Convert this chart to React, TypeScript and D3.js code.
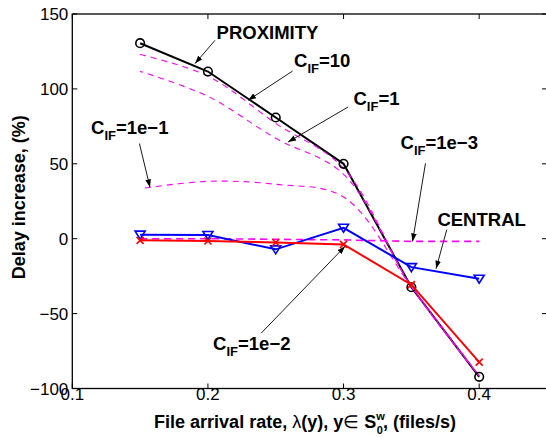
import React, { useEffect, useRef } from "react";
import * as d3 from "d3";

// arrival rates (files/s)
const rates = [0.15, 0.2, 0.25, 0.3, 0.35, 0.4];

// delay increase (%) per scheme
const proximity = [130.5, 111.6, 80.9, 50, -32.4, -92.2];
const central = [2.7, 2.5, -7.1, 7.3, -19, -26.7];
const cif1e2 = [-1.1, -1.5, -2.5, -3.8, -30.7, -82.4];

// C_IF sweep (dashed magenta)
const cif10 = [123, 108.5, 77, 47, -32, -91.6];
const cif1 = [111.7, 95, 67, 43, -32, -91.6];
const cif1e1 = [33.4, 38.3, 36.3, 27.8, -32, -91.6];
const cif1e3 = [0, 0, -0.4, -0.8, -1.8, -1.8];

const xTicks = [0.1, 0.2, 0.3, 0.4];
const yTicks = [-100, -50, 0, 50, 100, 150];

// annotation text / arrow anchors, in data units
const notes = [
  { main: "PROXIMITY", sub: "", rest: "", tx: 0.2064, ty: 133.1, fx: 0.2052, fy: 132.4, ax: 0.1905, ay: 116.9 },
  { main: "C", sub: "IF", rest: "=10", tx: 0.2635, ty: 114.6, fx: 0.2624, fy: 111.9, ax: 0.2296, ay: 92.4 },
  { main: "C", sub: "IF", rest: "=1", tx: 0.3073, ty: 89.0, fx: 0.3033, fy: 87.9, ax: 0.2591, ay: 64.5 },
  { main: "C", sub: "IF", rest: "=1e\u22121", tx: 0.1138, ty: 70.1, fx: 0.1495, fy: 63.5, ax: 0.1573, ay: 34.3 },
  { main: "C", sub: "IF", rest: "=1e\u22123", tx: 0.342, ty: 59.6, fx: 0.3604, fy: 50.3, ax: 0.3509, ay: -1.8 },
  { main: "CENTRAL", sub: "", rest: "", tx: 0.3692, ty: 8.4, fx: 0.3761, fy: 6.0, ax: 0.3682, ay: -20.0 },
  { main: "C", sub: "IF", rest: "=1e\u22122", tx: 0.2038, ty: -74.6, fx: 0.2392, fy: -63.1, ax: 0.3011, ay: -5.1 },
];

const W = 546;
const H = 437;
const FONT = "'Liberation Sans', Arial, Helvetica, sans-serif";

const App = () => {
  const svgRef = useRef<SVGSVGElement>(null);

  useEffect(() => {
    const svg = d3.select(svgRef.current);
    svg.selectAll("*").remove();

    const x = d3.scaleLinear().domain([0.1, 0.45]).range([72.3, 547]);
    const y = d3.scaleLinear().domain([-100, 150]).range([388.5, 14]);
    const [x0, x1] = x.range();
    const [y0, y1] = y.range();

    svg.append("rect").attr("width", W).attr("height", H).attr("fill", "#fff");

    const defs = svg.append("defs");
    defs
      .append("marker")
      .attr("id", "ah")
      .attr("viewBox", "0 0 10 10")
      .attr("refX", 10)
      .attr("refY", 5)
      .attr("markerWidth", 8)
      .attr("markerHeight", 8)
      .attr("markerUnits", "userSpaceOnUse")
      .attr("orient", "auto")
      .append("path")
      .attr("d", "M0,1.5 L10,5 L0,8.5 Z")
      .attr("fill", "#000");

    // ticks (inward, all four sides)
    const tl = 5;
    const ticks = svg.append("g").attr("stroke", "#000").attr("stroke-width", 1);
    xTicks.forEach((t) => {
      ticks.append("line").attr("x1", x(t)).attr("x2", x(t)).attr("y1", y0).attr("y2", y0 - tl);
      ticks.append("line").attr("x1", x(t)).attr("x2", x(t)).attr("y1", y1).attr("y2", y1 + tl);
    });
    yTicks.forEach((t) => {
      ticks.append("line").attr("x1", x0).attr("x2", x0 + tl).attr("y1", y(t)).attr("y2", y(t));
      ticks.append("line").attr("x1", x1).attr("x2", x1 - tl).attr("y1", y(t)).attr("y2", y(t));
    });

    svg
      .append("rect")
      .attr("x", x0)
      .attr("y", y1)
      .attr("width", x1 - x0)
      .attr("height", y0 - y1)
      .attr("fill", "none")
      .attr("stroke", "#000")
      .attr("stroke-width", 1.3);

    // tick labels
    svg
      .append("g")
      .selectAll("text")
      .data(xTicks)
      .enter()
      .append("text")
      .attr("x", (d) => x(d))
      .attr("y", y0 + 11.5)
      .attr("text-anchor", "middle")
      .attr("font-family", FONT)
      .attr("font-size", 17)
      .text((d) => d3.format(".1f")(d));

    svg
      .append("g")
      .selectAll("text")
      .data(yTicks)
      .enter()
      .append("text")
      .attr("x", x0 - 4)
      .attr("y", (d) => y(d) + 6)
      .attr("text-anchor", "end")
      .attr("font-family", FONT)
      .attr("font-size", 17)
      .text((d) => (d < 0 ? "\u2212" + Math.abs(d) : String(d)));

    const pts = (vals: number[]) => vals.map((v, i) => [rates[i], v] as [number, number]);
    const straight = d3.line<[number, number]>().x((d) => x(d[0])).y((d) => y(d[1]));
    const smooth = d3
      .line<[number, number]>()
      .x((d) => x(d[0]))
      .y((d) => y(d[1]))
      .curve(d3.curveCatmullRom.alpha(0.5));

    // PROXIMITY
    svg
      .append("path")
      .datum(pts(proximity))
      .attr("fill", "none")
      .attr("stroke", "#000")
      .attr("stroke-width", 2)
      .attr("d", straight);

    // dashed C_IF curves
    [cif10, cif1, cif1e1].forEach((s, k) => {
      svg
        .append("path")
        .datum(pts(s))
        .attr("fill", "none")
        .attr("stroke", "#ff00ff")
        .attr("stroke-width", 1.1)
        .attr("stroke-dasharray", "6,5")
        .attr("stroke-dashoffset", k * 3)
        .attr("d", smooth);
    });
    svg
      .append("path")
      .datum(pts(cif1e3))
      .attr("fill", "none")
      .attr("stroke", "#ff00ff")
      .attr("stroke-width", 1.6)
      .attr("stroke-dasharray", "7,5")
      .attr("d", straight);

    svg
      .append("g")
      .selectAll("circle")
      .data(pts(proximity))
      .enter()
      .append("circle")
      .attr("cx", (d) => x(d[0]))
      .attr("cy", (d) => y(d[1]))
      .attr("r", 4.3)
      .attr("fill", "none")
      .attr("stroke", "#000")
      .attr("stroke-width", 1.6);

    // CENTRAL
    svg
      .append("path")
      .datum(pts(central))
      .attr("fill", "none")
      .attr("stroke", "#0000ff")
      .attr("stroke-width", 2)
      .attr("d", straight);
    svg
      .append("g")
      .selectAll("path")
      .data(pts(central))
      .enter()
      .append("path")
      .attr("transform", (d) => `translate(${x(d[0])},${y(d[1])})`)
      .attr("d", "M-5,-3.5 L5,-3.5 L0,4.5 Z")
      .attr("fill", "none")
      .attr("stroke", "#0000ff")
      .attr("stroke-width", 1.6);

    // C_IF = 1e-2 (red)
    svg
      .append("path")
      .datum(pts(cif1e2))
      .attr("fill", "none")
      .attr("stroke", "#ff0000")
      .attr("stroke-width", 2)
      .attr("d", straight);
    svg
      .append("g")
      .selectAll("path")
      .data(pts(cif1e2))
      .enter()
      .append("path")
      .attr("transform", (d) => `translate(${x(d[0])},${y(d[1])})`)
      .attr("d", "M-3.5,-3.5 L3.5,3.5 M-3.5,3.5 L3.5,-3.5")
      .attr("stroke", "#ff0000")
      .attr("stroke-width", 1.6);

    // annotations
    const ann = svg.append("g").attr("font-family", FONT).attr("font-weight", "bold");
    notes.forEach((n) => {
      ann
        .append("line")
        .attr("x1", x(n.fx))
        .attr("y1", y(n.fy))
        .attr("x2", x(n.ax))
        .attr("y2", y(n.ay))
        .attr("stroke", "#000")
        .attr("stroke-width", 0.9)
        .attr("marker-end", "url(#ah)");
      const t = ann.append("text").attr("x", x(n.tx)).attr("y", y(n.ty)).attr("font-size", 18.5);
      t.append("tspan").text(n.main);
      if (n.sub) {
        t.append("tspan").attr("font-size", 13).attr("dy", 6).text(n.sub);
        t.append("tspan").attr("dy", -6).text(n.rest);
      }
    });

    // axis labels
    svg
      .append("text")
      .attr("transform", `translate(25,${(y0 + y1) / 2 - 4}) rotate(-90)`)
      .attr("text-anchor", "middle")
      .attr("font-family", FONT)
      .attr("font-weight", "bold")
      .attr("font-size", 18)
      .text("Delay increase, (%)");

    const xl = svg
      .append("text")
      .attr("x", 305)
      .attr("y", 427.5)
      .attr("text-anchor", "middle")
      .attr("font-family", FONT)
      .attr("font-weight", "bold")
      .attr("font-size", 18);
    xl.append("tspan").text("File arrival rate, ");
    xl.append("tspan").attr("font-weight", "normal").text("\u03bb");
    xl.append("tspan").text("(y), y");
    xl.append("tspan").attr("font-weight", "normal").text("\u2208 ");
    xl.append("tspan").text("S");
    xl.append("tspan").attr("font-size", 11).attr("dy", -8).text("w");
    xl.append("tspan").attr("font-size", 11).attr("dx", -8).attr("dy", 14).text("0");
    xl.append("tspan").attr("dy", -6).text(", (files/s)");
  }, []);

  return (
    <svg
      ref={svgRef}
      width={W}
      height={H}
      style={{ position: "absolute", left: 0, top: 0, display: "block" }}
    />
  );
};

export default App;
